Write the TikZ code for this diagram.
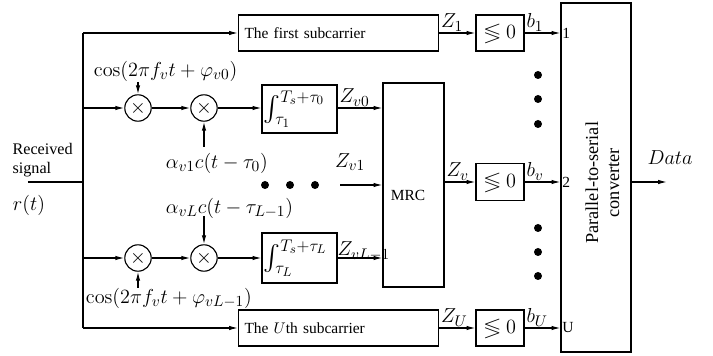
\documentclass[tikz,border=0pt]{standalone}
\usepackage{amsmath,amssymb}
\usepackage[no-math]{fontspec}
\setmainfont{Liberation Serif}
\usepackage{tikz}
\usetikzlibrary{arrows.meta,positioning}

\begin{document}
\begin{tikzpicture}[font=\fontsize{11}{13}\selectfont, line width=0.8pt,
  >={Latex[length=2.2mm,width=1.1mm]},
  blk/.style={draw, minimum height=0.9cm, inner sep=1pt},
  mult/.style={draw, circle, minimum size=0.66cm, inner sep=0pt, font=\fontsize{15}{17}\selectfont},
  mlab/.style={font=\fontsize{15}{17}\selectfont, inner sep=1pt},
  ilab/.style={font=\fontsize{18}{20}\selectfont, inner sep=1pt},
  bigdot/.style={circle, fill, inner sep=0pt, minimum size=0.2cm}]

\useasboundingbox (0,0) rectangle (17.825,8.9);

% ---------- input and bus ----------
\node[anchor=west, align=left, inner sep=0pt, font=\fontsize{11.5}{13.5}\selectfont] (rx) at (0.3,4.9) {Received\\signal};
\node[mlab] (rt) at (0.725,3.775) {$r(t)$};
\coordinate (sig) at (0.7,4.35);
\coordinate (bt) at (2.075,8.075);
\coordinate (bb) at (2.075,0.7);
\coordinate (bA) at (2.075,6.2);
\coordinate (bL) at (2.075,2.45);
\draw (sig) -- (bt |- sig);
\draw (bt) -- (bb);

% ---------- first and U-th subcarrier ----------
\node[blk, text width=4.7cm, inner xsep=0.15cm, align=left] (fsub) at (8.4625,8.075) {The first subcarrier};
\node[blk, text width=4.7cm, inner xsep=0.15cm, align=left] (usub) at (8.4625,0.7) {The $U$th subcarrier};
\draw[->] (bt) -- (fsub);
\draw[->] (bb) -- (usub);

% ---------- path 1 ----------
\node[mult] (mA1) at (3.45,6.2) {$\times$};
\node[mult] (mA2) at (5.1,6.2) {$\times$};
\node[blk, minimum width=1.875cm, minimum height=1.2cm] (intA) at (7.4875,6.175) {};
\node[ilab, anchor=west] at (intA.west) {$\int_{\tau_1}^{T_s+\tau_0}$};
\node[mlab, anchor=west] (cA) at (2.3,7.125) {$\cos(2\pi f_v t+\varphi_{v0})$};
\node[mlab, anchor=west] (aA) at (4.1,4.825) {$\alpha_{v1}c(t-\tau_0)$};
\coordinate (cAe) at (3.45,6.85);
\coordinate (aAe) at (5.1,5.225);
\draw[->] (bA) -- (mA1);
\draw[->] (mA1) -- (mA2);
\draw[->] (mA2) -- (mA2 -| intA.west);
\draw[->] (cAe) -- (mA1);
\draw[->] (aAe) -- (mA2);

% ---------- path L ----------
\node[mult] (mL1) at (3.45,2.45) {$\times$};
\node[mult] (mL2) at (5.1,2.45) {$\times$};
\node[blk, minimum width=1.875cm, minimum height=1.25cm] (intL) at (7.4875,2.45) {};
\node[ilab, anchor=west] at (intL.west) {$\int_{\tau_L}^{T_s+\tau_L}$};
\node[mlab, anchor=west] (cL) at (2.1,1.45) {$\cos(2\pi f_v t+\varphi_{vL-1})$};
\node[mlab, anchor=west] (aL) at (4.1,3.7) {$\alpha_{vL}c(t-\tau_{L-1})$};
\coordinate (cLe) at (3.45,1.7);
\coordinate (aLe) at (5.1,3.5);
\draw[->] (bL) -- (mL1);
\draw[->] (mL1) -- (mL2);
\draw[->] (mL2) -- (intL);
\draw[->] (cLe) -- (mL1);
\draw[->] (aLe) -- (mL2);

% ---------- MRC ----------
\node[draw, minimum width=1.525cm, minimum height=5.1cm] (mrc) at (10.3375,4.275) {};
\node (mrct) at (10.2,4.025) {MRC};
\draw[->] (intA.east |- mA2) -- (mA2 -| mrc.west)
  node[pos=0, mlab, anchor=south west] {$Z_{v0}$};
\coordinate (zv1) at (8.5,4.275);
\draw[->] (zv1) -- (zv1 -| mrc.west);
\node[mlab] at (8.75,4.85) {$Z_{v1}$};
\draw[->] (intL) -- (intL -| mrc.west);
\node[mlab, anchor=west, inner sep=0pt] at (8.425,2.62) {$Z_{vL-1}$};
\foreach \x in {6.625,7.25,7.875}
  \node[bigdot] at (\x,4.275) {};

% ---------- decisions ----------
\node[blk, minimum width=1.2cm, mlab, minimum height=0.9cm] (decA) at (12.5,8.075) {$\lessgtr 0$};
\node[blk, minimum width=1.2cm, mlab, minimum height=0.925cm] (decV) at (12.5,4.35) {$\lessgtr 0$};
\node[blk, minimum width=1.2cm, mlab, minimum height=0.9cm] (decU) at (12.5,0.7) {$\lessgtr 0$};
\draw[->] (fsub) -- (decA) node[pos=0, mlab, anchor=south west] {$Z_1$};
\draw[->] (mrc.east |- decV) -- (decV) node[pos=0, mlab, anchor=south west] {$Z_v$};
\draw[->] (usub) -- (decU) node[pos=0, mlab, anchor=south west] {$Z_U$};
\foreach \y in {7.025,6.425,5.8,3.2,2.6,2.0}
  \node[bigdot] at (13.45,\y) {};

% ---------- parallel-to-serial ----------
\node[draw, minimum width=1.75cm, minimum height=8.725cm] (ps) at (14.9,4.4625) {};
\node[rotate=90, align=center, font=\fontsize{13}{15}\selectfont] (pst) at (15.06,4.33) {Parallel-to-serial\\converter};
\draw[->] (decA) -- (decA -| ps.west) node[pos=0, mlab, anchor=south west] {$b_1$};
\draw[->] (decV) -- (decV -| ps.west) node[pos=0, mlab, anchor=south west] {$b_v$};
\draw[->] (decU) -- (decU -| ps.west) node[pos=0, mlab, anchor=south west] {$b_U$};
\node[anchor=west, inner sep=1pt] at (decA -| ps.west) {1};
\node[anchor=west, inner sep=1pt] at (decV -| ps.west) {2};
\node[anchor=west, inner sep=1pt] at (decU -| ps.west) {U};
\coordinate (dat) at (16.675,4.35);
\draw[->] (ps.east |- dat) -- (dat);
\node[mlab] (datl) at (16.75,4.95) {$Data$};
\end{tikzpicture}
\end{document}
